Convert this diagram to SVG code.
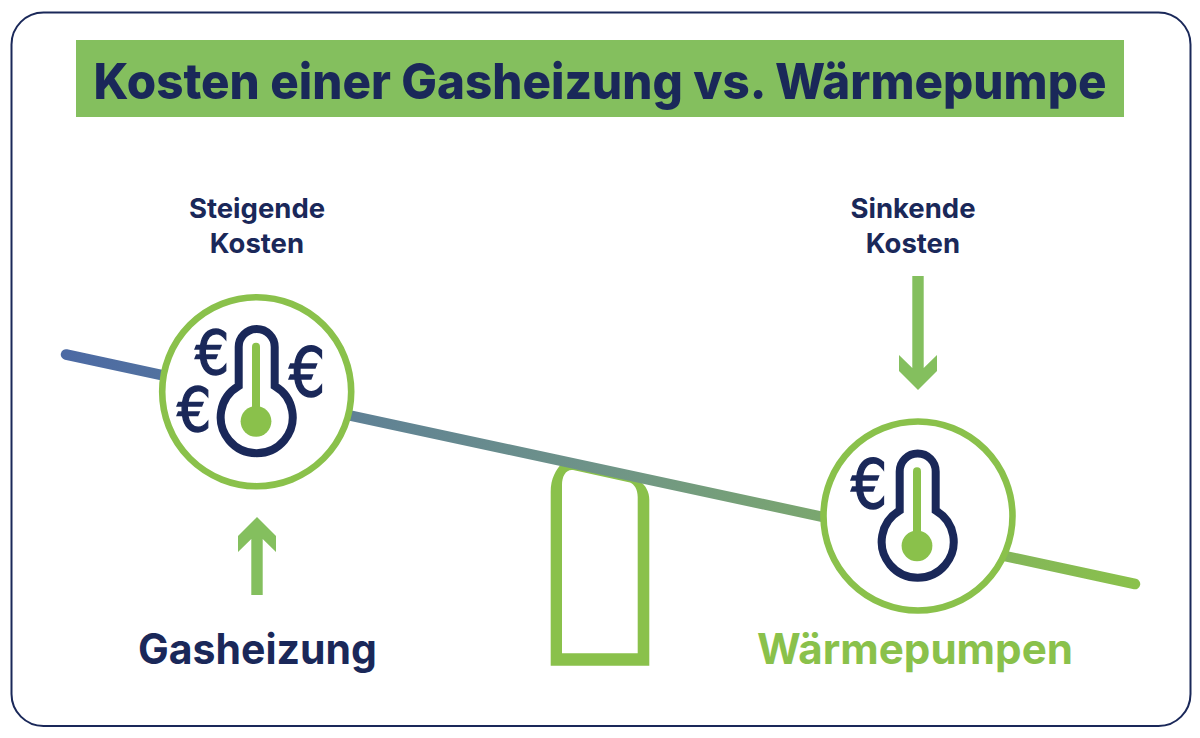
<svg xmlns="http://www.w3.org/2000/svg" width="1200" height="738" viewBox="0 0 1200 738">
<style>
text{font-family:"Inter","Liberation Sans",sans-serif;font-weight:700;fill:#1a2859;text-anchor:middle}
.sub{font-size:27.5px}
.big{font-size:42px;font-weight:700}
.eu{font-family:"DejaVu Sans",sans-serif;font-size:60px;font-weight:400;text-anchor:start;stroke:#1a2859;stroke-width:1.4}
.ring{fill:#fff;stroke:#8ac14b;stroke-width:6.6}
.tube{fill:none;stroke:#1a2859;stroke-width:8}
.g{fill:#8ac14b}
.arrow{fill:#84bf5e}
</style>
<defs>
<linearGradient id="beam" gradientUnits="userSpaceOnUse" x1="66" y1="354" x2="1135" y2="584">
<stop offset="0" stop-color="#4c6aa4"/><stop offset=".5" stop-color="#6f9488"/><stop offset="1" stop-color="#8ac14b"/>
</linearGradient>
<g id="thermo">
<path class="tube" d="M238.7 386V347A18 18 0 0 1 274.7 347V386A36 36 0 1 1 238.7 386Z"/>
<rect class="g" x="252" y="342.7" width="8" height="70" rx="4"/>
<circle class="g" cx="256" cy="421.3" r="15.4"/>
</g>
</defs>
<rect id="frame" x="11.5" y="12.5" width="1179" height="713.5" rx="32" fill="#fff" stroke="#1a2859" stroke-width="2"/>
<g id="title">
<rect x="76" y="40" width="1048" height="77" fill="#84bf5e"/>
<text x="600" y="99" font-size="50" style="font-weight:800" textLength="1013" lengthAdjust="spacingAndGlyphs">Kosten einer Gasheizung vs. Wärmepumpe</text>
</g>
<g id="connectors">
<path id="support" class="g" fill-rule="evenodd" d="M550.7 665.7V492C550.7 478 556 470 562 463L640 481C646 486 649.3 492 649.3 500V665.7ZM562 653.3H637.7V497C637.7 489 634 484 630 482.5L573 470C566 469 562 476 562 485Z"/>
<line id="beam-line" x1="66" y1="354.5" x2="1135" y2="584" stroke="url(#beam)" stroke-width="10.5" stroke-linecap="round"/>
<polygon id="arrow-up" class="arrow" points="251.3,595 262.7,595 262.7,539 276,552 276,536 257,517 238,536 238,552 251.3,539"/>
<polygon id="arrow-down" class="arrow" points="912.3,276 923.7,276 923.7,368 937,355 937,371 918,390 899,371 899,355 912.3,368"/>
</g>
<g id="node-gas">
<circle class="ring" cx="256.7" cy="391.7" r="94.5"/>
<use href="#thermo"/>
<text class="eu" transform="translate(195 374) scale(.9 1)">€</text>
<text class="eu" transform="translate(177 430.7) scale(.9 1)">€</text>
<text class="eu" transform="translate(289 396) scale(.95 1.13)">€</text>
<text class="sub" x="257" y="218">Steigende</text>
<text class="sub" x="257" y="253">Kosten</text>
<text class="big" x="257.5" y="664" textLength="239" lengthAdjust="spacingAndGlyphs">Gasheizung</text>
</g>
<g id="node-wp">
<circle class="ring" cx="918" cy="516" r="94.5"/>
<use href="#thermo" transform="translate(661 124.5)"/>
<text class="eu" transform="translate(851 508) scale(.95 1.13)">€</text>
<text class="sub" x="913" y="218">Sinkende</text>
<text class="sub" x="913" y="253">Kosten</text>
<text class="big" x="915" y="664" textLength="316" lengthAdjust="spacingAndGlyphs" style="fill:#8ac14b">Wärmepumpen</text>
</g>
</svg>
